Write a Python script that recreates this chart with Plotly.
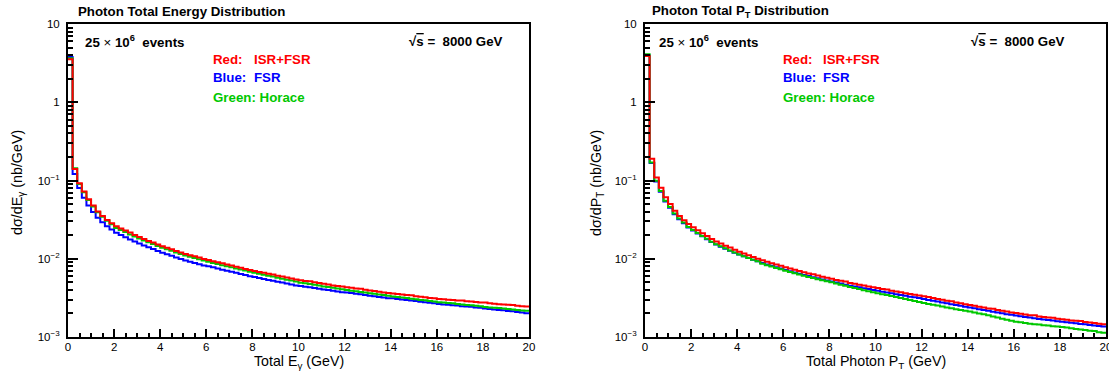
import plotly.graph_objects as go

W, H = 1109, 376

# ---------------- data ----------------
bin_edges = [round(0.2 * i, 1) for i in range(101)]

red_E = [3.55, 0.140, 0.0925, 0.0723, 0.0578, 0.0478, 0.0401, 0.0353, 0.0313, 0.0284,
         0.0260, 0.0244, 0.0229, 0.0216, 0.0201, 0.0190, 0.0179, 0.0168, 0.0161, 0.0152,
         0.01447, 0.0138, 0.0132, 0.0126, 0.0120, 0.01154, 0.01112, 0.0108, 0.01034, 0.00996,
         0.00961, 0.00931, 0.00901, 0.00878, 0.00845, 0.00819, 0.00793, 0.00767, 0.00738, 0.00719,
         0.00698, 0.00679, 0.00661, 0.00643, 0.00631, 0.00608, 0.00592, 0.00576, 0.00560, 0.00545,
         0.00531, 0.00521, 0.00514, 0.00499, 0.00489, 0.00479, 0.00469, 0.00456, 0.00450, 0.00441,
         0.00433, 0.00425, 0.00417, 0.00413, 0.00402, 0.00394, 0.00387, 0.00380, 0.00370, 0.00366,
         0.00360, 0.00354, 0.00349, 0.00343, 0.00342, 0.00332, 0.00327, 0.00322, 0.00316, 0.00313,
         0.00307, 0.00304, 0.00300, 0.00297, 0.00293, 0.00292, 0.00287, 0.00284, 0.00280, 0.00277,
         0.00275, 0.00270, 0.00267, 0.00262, 0.00261, 0.00258, 0.00257, 0.00251, 0.00248, 0.00245]

blue_E = [3.80, 0.121, 0.0800, 0.0600, 0.0480, 0.0397, 0.0333, 0.0293, 0.0260, 0.0236,
          0.02145, 0.02013, 0.01889, 0.01766, 0.01658, 0.01568, 0.01477, 0.01403, 0.01328, 0.01254,
          0.01194, 0.01139, 0.01089, 0.01040, 0.00990, 0.00952, 0.00917, 0.00884, 0.00853, 0.00822,
          0.00800, 0.00776, 0.00751, 0.00726, 0.00704, 0.00682, 0.00661, 0.00639, 0.00619, 0.00599,
          0.00583, 0.00567, 0.00552, 0.00537, 0.00523, 0.00509, 0.00496, 0.00482, 0.00469, 0.00456,
          0.00449, 0.00440, 0.00431, 0.00422, 0.00413, 0.00406, 0.00398, 0.00390, 0.00382, 0.00374,
          0.00371, 0.00364, 0.00357, 0.00351, 0.00344, 0.00337, 0.00331, 0.00325, 0.00319, 0.00313,
          0.00312, 0.00307, 0.00302, 0.00297, 0.00293, 0.00288, 0.00283, 0.00279, 0.00274, 0.00269,
          0.00264, 0.00261, 0.00258, 0.00255, 0.00252, 0.00248, 0.00245, 0.00243, 0.00239, 0.00237,
          0.00231, 0.00228, 0.00224, 0.00222, 0.00219, 0.00215, 0.00213, 0.00208, 0.00205, 0.00201]

green_E = [3.65, 0.143, 0.0904, 0.0706, 0.0565, 0.0467, 0.0392, 0.0345, 0.0306, 0.0277,
           0.0248, 0.0233, 0.0219, 0.0204, 0.0192, 0.01815, 0.01709, 0.01624, 0.01538, 0.01452,
           0.01382, 0.01318, 0.01261, 0.01203, 0.01146, 0.01102, 0.01062, 0.01024, 0.00987, 0.00951,
           0.00913, 0.00884, 0.00856, 0.00828, 0.00803, 0.00778, 0.00753, 0.00729, 0.00706, 0.00683,
           0.00660, 0.00642, 0.00625, 0.00608, 0.00592, 0.00572, 0.00556, 0.00541, 0.00526, 0.00512,
           0.00494, 0.00485, 0.00474, 0.00464, 0.00455, 0.00443, 0.00434, 0.00426, 0.00416, 0.00408,
           0.00398, 0.00391, 0.00384, 0.00377, 0.00370, 0.00362, 0.00356, 0.00350, 0.00343, 0.00337,
           0.00329, 0.00324, 0.00319, 0.00314, 0.00309, 0.00303, 0.00298, 0.00294, 0.00288, 0.00284,
           0.00278, 0.00275, 0.00272, 0.00269, 0.00265, 0.00260, 0.00257, 0.00254, 0.00251, 0.00248,
           0.00242, 0.00239, 0.00237, 0.00234, 0.00232, 0.00228, 0.00225, 0.00222, 0.00218, 0.00216]

red_P = [3.90, 0.190, 0.109, 0.081, 0.061, 0.050, 0.041, 0.0353, 0.0310, 0.0279,
         0.0252, 0.0231, 0.0212, 0.0195, 0.0179, 0.01665, 0.01565, 0.01471, 0.01395, 0.01300,
         0.01228, 0.01168, 0.01110, 0.01055, 0.01003, 0.00957, 0.00918, 0.00875, 0.00845, 0.00811,
         0.00780, 0.00751, 0.00724, 0.00698, 0.00673, 0.00650, 0.00634, 0.00609, 0.00590, 0.00571,
         0.00554, 0.00537, 0.00522, 0.00511, 0.00491, 0.00478, 0.00466, 0.00454, 0.00443, 0.00432,
         0.00422, 0.00411, 0.00404, 0.00391, 0.00381, 0.00372, 0.00363, 0.00355, 0.00347, 0.00339,
         0.00331, 0.00325, 0.00314, 0.00307, 0.00299, 0.00291, 0.00287, 0.00277, 0.00270, 0.00263,
         0.00257, 0.00250, 0.00244, 0.00238, 0.00232, 0.00229, 0.00221, 0.00216, 0.00211, 0.00206,
         0.00202, 0.00198, 0.00194, 0.00190, 0.00189, 0.00183, 0.00180, 0.00177, 0.00176, 0.00171,
         0.00169, 0.00166, 0.00163, 0.00161, 0.00160, 0.00156, 0.00153, 0.00151, 0.00148, 0.00146]

blue_P = [4.00, 0.167, 0.097, 0.072, 0.054, 0.045, 0.037, 0.032, 0.0284, 0.0250,
          0.0230, 0.02107, 0.01933, 0.01778, 0.01632, 0.01518, 0.01427, 0.01342, 0.01265, 0.01193,
          0.01133, 0.01078, 0.01025, 0.00974, 0.00926, 0.00883, 0.00847, 0.00813, 0.00780, 0.00749,
          0.00720, 0.00693, 0.00668, 0.00644, 0.00621, 0.00600, 0.00581, 0.00562, 0.00545, 0.00527,
          0.00511, 0.00496, 0.00482, 0.00467, 0.00453, 0.00442, 0.00431, 0.00420, 0.00410, 0.00400,
          0.00390, 0.00380, 0.00371, 0.00362, 0.00352, 0.00344, 0.00336, 0.00328, 0.00321, 0.00314,
          0.00306, 0.00298, 0.00290, 0.00284, 0.00277, 0.00269, 0.00263, 0.00256, 0.00250, 0.00243,
          0.00239, 0.00233, 0.00227, 0.00221, 0.00216, 0.00210, 0.00206, 0.00201, 0.00196, 0.00192,
          0.00188, 0.00184, 0.00180, 0.00177, 0.00173, 0.00170, 0.00167, 0.00165, 0.00162, 0.00159,
          0.00157, 0.00154, 0.00152, 0.00150, 0.00147, 0.00145, 0.00142, 0.00140, 0.00138, 0.00136]

green_P = [4.10, 0.170, 0.099, 0.0735, 0.055, 0.046, 0.0378, 0.0327, 0.0290, 0.0255,
           0.0233, 0.0213, 0.01957, 0.0180, 0.01652, 0.01537, 0.01444, 0.01358, 0.01277, 0.01200,
           0.01133, 0.01078, 0.01025, 0.00974, 0.00926, 0.00863, 0.00828, 0.00795, 0.00762, 0.00732,
           0.00704, 0.00677, 0.00653, 0.00630, 0.00607, 0.00586, 0.00567, 0.00549, 0.00532, 0.00515,
           0.00499, 0.00483, 0.00467, 0.00453, 0.00437, 0.00423, 0.00410, 0.00397, 0.00385, 0.00374,
           0.00363, 0.00353, 0.00343, 0.00334, 0.00324, 0.00314, 0.00305, 0.00296, 0.00288, 0.00280,
           0.00272, 0.00265, 0.00258, 0.00252, 0.00246, 0.00239, 0.00233, 0.00227, 0.00221, 0.00216,
           0.00211, 0.00205, 0.00200, 0.00195, 0.00190, 0.00183, 0.00177, 0.00171, 0.00166, 0.00161,
           0.00157, 0.00154, 0.00151, 0.00148, 0.00145, 0.00144, 0.00141, 0.00140, 0.00137, 0.00136,
           0.00134, 0.00132, 0.00129, 0.00127, 0.00125, 0.00123, 0.00120, 0.00119, 0.00115, 0.00113]

x_ticks = [0, 2, 4, 6, 8, 10, 12, 14, 16, 18, 20]
y_ticks = [0.001, 0.01, 0.1, 1, 10]
y_tick_labels = ["10<sup>\u22123</sup>", "10<sup>\u22122</sup>", "10<sup>\u22121</sup>", "1", "10"]

RED, BLUE, GREEN = "#ff0000", "#0000ff", "#00c800"
FONT = "Liberation Sans, Arial, Helvetica, sans-serif"

# ---------------- figure ----------------
fig = go.Figure()


def step(vals):
    xs = bin_edges[:-1] + [bin_edges[-1]]
    ys = list(vals) + [vals[-1]]
    return xs, ys


for xa, ya, series in [("x", "y", [(blue_E, BLUE), (green_E, GREEN), (red_E, RED)]),
                       ("x2", "y2", [(blue_P, BLUE), (green_P, GREEN), (red_P, RED)])]:
    for vals, col in series:
        xs, ys = step(vals)
        fig.add_trace(go.Scatter(x=xs, y=ys, mode="lines", line=dict(color=col, width=2, shape="hv"),
                                 xaxis=xa, yaxis=ya, showlegend=False, hoverinfo="skip"))

minor_y = [m * 10.0 ** e for e in range(-3, 1) for m in range(2, 10)]


def xaxis_cfg(domain):
    return dict(domain=domain, range=[0, 20], tickvals=x_ticks, ticktext=[str(v) for v in x_ticks],
                ticks="inside", ticklen=8, tickwidth=1.5, tickcolor="black", automargin=False,
                ticklabeloverflow="allow",
                minor=dict(dtick=0.5, ticks="inside", ticklen=4, tickwidth=1.5, tickcolor="black", showgrid=False),
                showline=True, linewidth=2, linecolor="black", mirror=True, showgrid=False, zeroline=False,
                tickfont=dict(family=FONT, size=11.5, color="black"), ticklabelstandoff=-2)


def yaxis_cfg(anchor):
    return dict(domain=[1 - 337 / H, 1 - 24 / H], type="log", range=[-3, 1], anchor=anchor,
                tickvals=y_ticks, ticktext=y_tick_labels, automargin=False,
                ticklabeloverflow="allow",
                ticks="inside", ticklen=10, tickwidth=1.5, tickcolor="black",
                minor=dict(tickvals=minor_y, ticks="inside", ticklen=5, tickwidth=1.5, tickcolor="black", showgrid=False),
                showline=True, linewidth=2, linecolor="black", mirror=True, showgrid=False, zeroline=False,
                tickfont=dict(family=FONT, size=11.5, color="black"), ticklabelstandoff=4)


xl = [68 / W, 529 / W]
xr = [645 / W, 1106 / W]
fig.update_layout(
    width=W, height=H, margin=dict(l=0, r=0, t=0, b=0, autoexpand=False),
    paper_bgcolor="white", plot_bgcolor="white",
    xaxis=dict(**xaxis_cfg(xl), anchor="y"),
    yaxis=yaxis_cfg("x"),
    xaxis2=dict(**xaxis_cfg(xr), anchor="y2"),
    yaxis2=yaxis_cfg("x2"),
    font=dict(family=FONT, color="black"),
)

ann = []


def text(x, y, s, size=12, color="black", xanchor="left", angle=0, bold=False):
    if bold:
        s = "<b>" + s + "</b>"
    ann.append(dict(x=x / W, y=1 - y / H, xref="paper", yref="paper", text=s, showarrow=False,
                    xanchor=xanchor, yanchor="middle", textangle=angle,
                    font=dict(family=FONT, size=size, color=color)))


NB = "\u00a0"
sqrt_s = "\u221a<span style='text-decoration:overline'>s</span>" + NB + "=" + NB + NB + "8000" + NB + "GeV"
events = "25 <span style='font-weight:normal'>\u00d7</span> 10<sup>6</sup>" + NB + NB + "events"

panels = [
    dict(title="Photon Total Energy Distribution", title_x=76,
         ytitle="d\u03c3/dE<sub>\u03b3</sub> (nb/GeV)", ytitle_x=18,
         xtitle="Total E<sub>\u03b3</sub> (GeV)", xtitle_x=298.5,
         events_x=83, sqrt_r=505, lx=211, vx=252),
    dict(title="Photon Total P<sub>T</sub> Distribution", title_x=650,
         ytitle="d\u03c3/dP<sub>T</sub> (nb/GeV)", ytitle_x=597,
         xtitle="Total Photon P<sub>T</sub> (GeV)", xtitle_x=876,
         events_x=657, sqrt_r=1067, lx=781, vx=821),
]

BS = 13.3
for p in panels:
    text(p["title_x"], 11, p["title"], size=BS, bold=True)
    text(p["events_x"], 42, events, size=BS, bold=True)
    text(p["sqrt_r"], 42, sqrt_s, size=BS, bold=True, xanchor="right")
    text(p["lx"], 59, "Red:", size=BS, color=RED, bold=True)
    text(p["vx"], 59, "ISR+FSR", size=BS, color=RED, bold=True)
    text(p["lx"], 78, "Blue:", size=BS, color=BLUE, bold=True)
    text(p["vx"], 78, "FSR", size=BS, color=BLUE, bold=True)
    text(p["lx"], 97, "Green:" + NB + "Horace", size=BS, color=GREEN, bold=True)
    text(p["ytitle_x"], 183, p["ytitle"], size=14.3, xanchor="center", angle=-90)
    text(p["xtitle_x"], 362, p["xtitle"], size=14.2, xanchor="center")

fig.update_layout(annotations=ann)
fig.write_html("out.html")
